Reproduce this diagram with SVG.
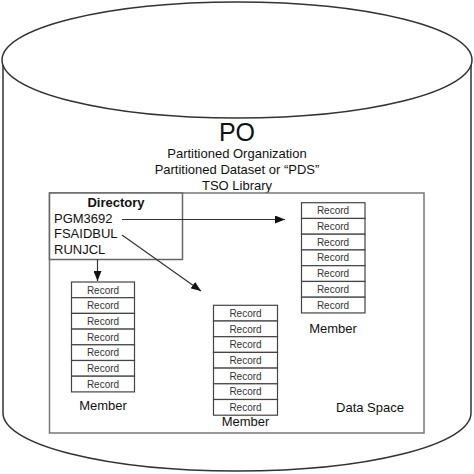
<svg xmlns="http://www.w3.org/2000/svg" width="474" height="474" viewBox="0 0 474 474">
<defs>
<style>
.cyl{fill:#fff;stroke:#333;stroke-width:1.5}
.ds{fill:#fff;stroke:#777;stroke-width:1.5}
.dir{fill:#fff;stroke:#666;stroke-width:1.5}
.rec{fill:#fff;stroke:#444;stroke-width:1.2}
.t{font-family:"Liberation Sans",Arial,sans-serif;fill:#111}
.rt{font-family:"Liberation Sans",Arial,sans-serif;font-size:10px;fill:#333;text-anchor:middle}
.conn{stroke:#333;stroke-width:1.2;fill:none;marker-end:url(#ah)}
</style>
<marker id="ah" viewBox="0 0 10 8" refX="10" refY="4" markerWidth="10" markerHeight="8" markerUnits="userSpaceOnUse" orient="auto">
<path d="M0,0 L10,4 L0,8 Z" fill="#111"/>
</marker>
</defs>
<g id="cylinder">
<path class="cyl" d="M3,60 L3,413 A234 58 0 0 0 471 413 L471,60"/>
<ellipse class="cyl" cx="237" cy="60" rx="235" ry="58"/>
</g>
<g id="titles" class="t" text-anchor="middle">
<text x="237" y="141" font-size="25">PO</text>
<text x="237" y="158" font-size="13">Partitioned Organization</text>
<text x="237" y="174" font-size="13">Partitioned Dataset or “PDS”</text>
<text x="237" y="190" font-size="13">TSO Library</text>
</g>
<g id="dataspace">
<rect class="ds" x="49.5" y="193" width="374.5" height="240"/>
<text class="t" x="370" y="412" font-size="13" text-anchor="middle">Data Space</text>
</g>
<g id="directory">
<rect class="dir" x="49.5" y="193" width="133" height="66.5"/>
<text class="t" x="116" y="206.5" font-size="13" font-weight="bold" text-anchor="middle">Directory</text>
<text class="t" x="54" y="223" font-size="13">PGM3692</text>
<text class="t" x="54" y="238" font-size="13">FSAIDBUL</text>
<text class="t" x="54" y="253.5" font-size="13">RUNJCL</text>
</g>
<g id="member-left">
<rect class="rec" x="71.5" y="282" width="63" height="15.7"/>
<rect class="rec" x="71.5" y="297.7" width="63" height="15.7"/>
<rect class="rec" x="71.5" y="313.4" width="63" height="15.7"/>
<rect class="rec" x="71.5" y="329.1" width="63" height="15.7"/>
<rect class="rec" x="71.5" y="344.8" width="63" height="15.7"/>
<rect class="rec" x="71.5" y="360.5" width="63" height="15.7"/>
<rect class="rec" x="71.5" y="376.2" width="63" height="15.7"/>
<text class="rt" x="103" y="293.5">Record</text>
<text class="rt" x="103" y="309.2">Record</text>
<text class="rt" x="103" y="324.9">Record</text>
<text class="rt" x="103" y="340.6">Record</text>
<text class="rt" x="103" y="356.3">Record</text>
<text class="rt" x="103" y="372">Record</text>
<text class="rt" x="103" y="387.7">Record</text>
<text class="t" x="103" y="409.5" font-size="13" text-anchor="middle">Member</text>
</g>
<g id="member-middle">
<rect class="rec" x="213.5" y="305.3" width="64" height="15.7"/>
<rect class="rec" x="213.5" y="321" width="64" height="15.7"/>
<rect class="rec" x="213.5" y="336.7" width="64" height="15.7"/>
<rect class="rec" x="213.5" y="352.4" width="64" height="15.7"/>
<rect class="rec" x="213.5" y="368.1" width="64" height="15.7"/>
<rect class="rec" x="213.5" y="383.8" width="64" height="15.7"/>
<rect class="rec" x="213.5" y="399.5" width="64" height="15.7"/>
<text class="rt" x="245.5" y="316.8">Record</text>
<text class="rt" x="245.5" y="332.5">Record</text>
<text class="rt" x="245.5" y="348.2">Record</text>
<text class="rt" x="245.5" y="363.9">Record</text>
<text class="rt" x="245.5" y="379.6">Record</text>
<text class="rt" x="245.5" y="395.3">Record</text>
<text class="rt" x="245.5" y="411">Record</text>
<text class="t" x="245.5" y="425.5" font-size="13" text-anchor="middle">Member</text>
</g>
<g id="member-right">
<rect class="rec" x="301.5" y="202.7" width="63.5" height="15.75"/>
<rect class="rec" x="301.5" y="218.45" width="63.5" height="15.75"/>
<rect class="rec" x="301.5" y="234.2" width="63.5" height="15.75"/>
<rect class="rec" x="301.5" y="249.95" width="63.5" height="15.75"/>
<rect class="rec" x="301.5" y="265.7" width="63.5" height="15.75"/>
<rect class="rec" x="301.5" y="281.45" width="63.5" height="15.75"/>
<rect class="rec" x="301.5" y="297.2" width="63.5" height="15.75"/>
<text class="rt" x="333" y="214.2">Record</text>
<text class="rt" x="333" y="229.95">Record</text>
<text class="rt" x="333" y="245.7">Record</text>
<text class="rt" x="333" y="261.45">Record</text>
<text class="rt" x="333" y="277.2">Record</text>
<text class="rt" x="333" y="292.95">Record</text>
<text class="rt" x="333" y="308.7">Record</text>
<text class="t" x="333" y="333" font-size="13" text-anchor="middle">Member</text>
</g>
<g id="connectors">
<line class="conn" x1="122" y1="219.5" x2="285" y2="219.5"/>
<line class="conn" x1="122" y1="235" x2="201" y2="291"/>
<line class="conn" x1="97.5" y1="259.5" x2="97.5" y2="281"/>
</g>
</svg>
